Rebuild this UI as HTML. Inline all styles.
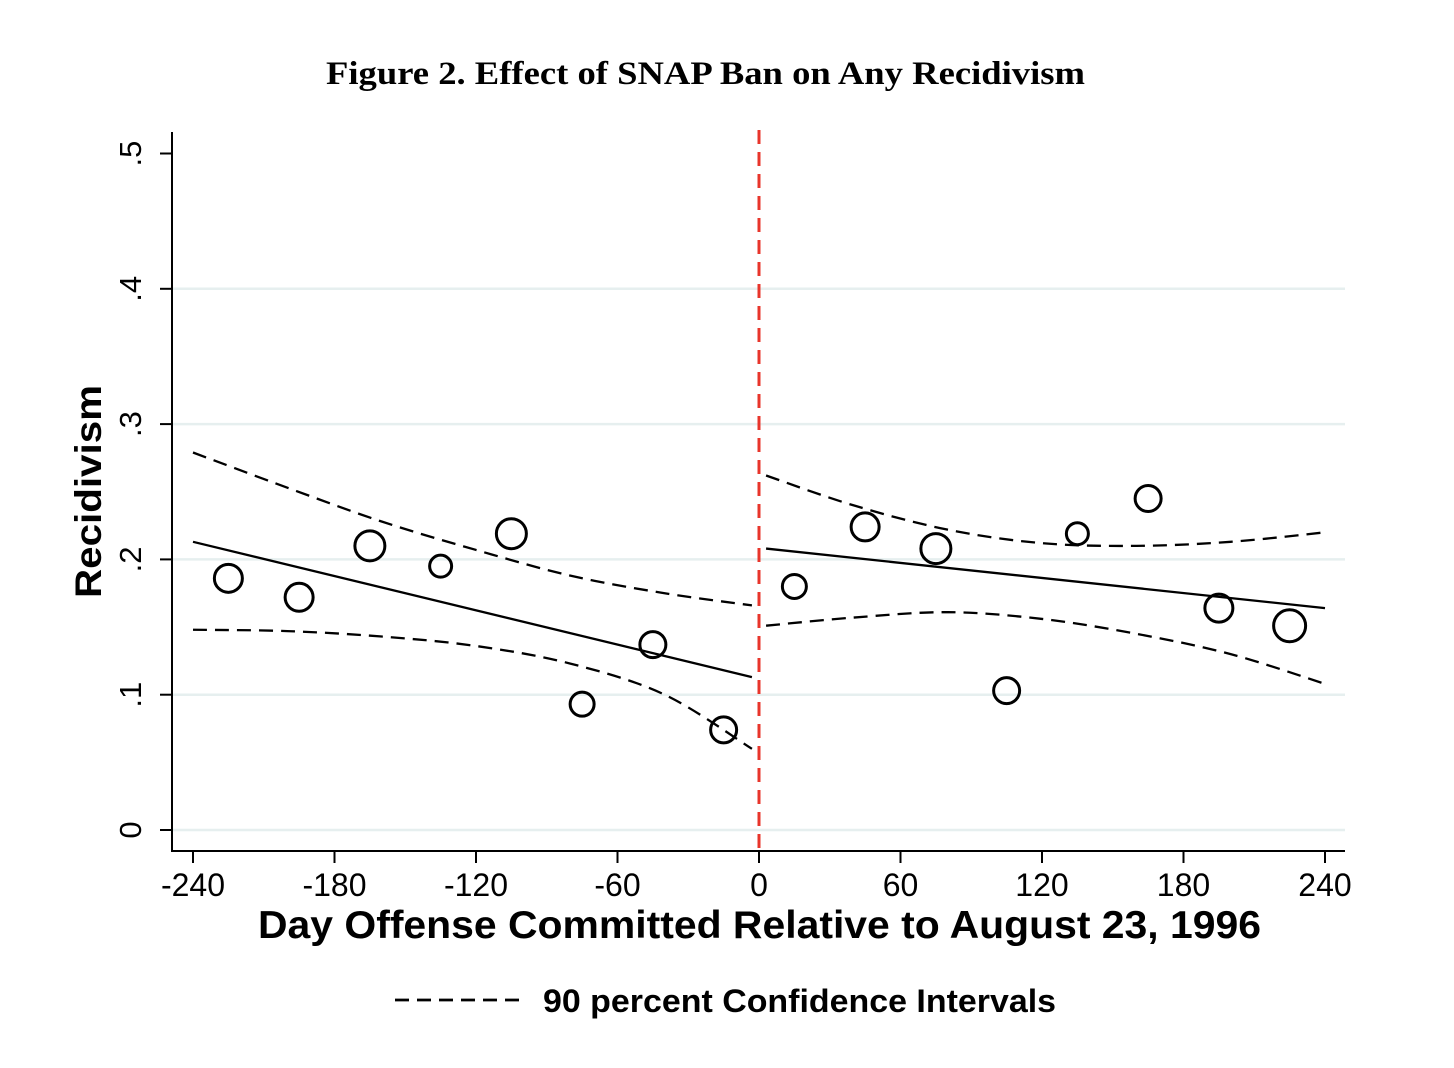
<!DOCTYPE html>
<html><head><meta charset="utf-8"><style>
body{margin:0;background:#fff;}
svg{display:block}
</style></head><body>
<svg width="1454" height="1068" viewBox="0 0 1454 1068" xmlns="http://www.w3.org/2000/svg">
<rect width="1454" height="1068" fill="#fff"/>
<text x="326" y="84" textLength="759" lengthAdjust="spacingAndGlyphs" font-family="Liberation Serif, serif" font-weight="bold" font-size="33">Figure 2. Effect of SNAP Ban on Any Recidivism</text>
<g id="grid"></g>
<g id="axes"></g>
<g id="marks"></g>
<text x="101" y="598" transform="rotate(-90 101 598)" textLength="213" lengthAdjust="spacingAndGlyphs" font-family="Liberation Sans, sans-serif" font-weight="bold" font-size="37">Recidivism</text>
<text x="258" y="938" textLength="1003" lengthAdjust="spacingAndGlyphs" font-family="Liberation Sans, sans-serif" font-weight="bold" font-size="39">Day Offense Committed Relative to August 23, 1996</text>
<g>
<line x1="395" y1="1000" x2="522" y2="1000" stroke="#000" stroke-width="2.8" stroke-dasharray="14 8"/>
<text x="543" y="1012" textLength="513" lengthAdjust="spacingAndGlyphs" font-family="Liberation Sans, sans-serif" font-weight="bold" font-size="32">90 percent Confidence Intervals</text>
</g>
</svg>
<script>
const xTicks=[-240,-180,-120,-60,0,60,120,180,240];
const yTicks=[0,0.1,0.2,0.3,0.4,0.5];
const yTickLabels=["0",".1",".2",".3",".4",".5"];
const binDays=[-225,-195,-165,-135,-105,-75,-45,-15,15,45,75,105,135,165,195,225];
const binRates=[0.186,0.172,0.210,0.195,0.219,0.093,0.137,0.074,0.180,0.224,0.208,0.103,0.219,0.245,0.164,0.151];
const binWeights=[14,14,15,11,15,12,13,13,12,14,15,13,11,13,14,16];
const fitLeftX=[-240,-3];
const fitLeftY=[0.213,0.113];
const fitRightX=[3,240];
const fitRightY=[0.208,0.164];
const ciLeftX=[-240,-200,-160,-120,-80,-40,-3];
const ciLeftUpper=[0.279,0.253,0.228,0.207,0.188,0.175,0.166];
const ciLeftLower=[0.148,0.147,0.143,0.136,0.123,0.100,0.060];
const ciRightX=[3,40,80,120,160,200,240];
const ciRightUpper=[0.262,0.240,0.222,0.212,0.210,0.213,0.220];
const ciRightLower=[0.151,0.157,0.161,0.156,0.145,0.130,0.108];

const NS="http://www.w3.org/2000/svg";
const sx=d=>759+d*(1132/480);
const sy=v=>830-v*1353;
function mk(tag,attrs,parent){const e=document.createElementNS(NS,tag);for(const k in attrs)e.setAttribute(k,attrs[k]);parent.appendChild(e);return e;}
const grid=document.getElementById('grid'),axes=document.getElementById('axes'),marks=document.getElementById('marks');

yTicks.forEach((t,i)=>{
  if(t<0.5){const g=mk('line',{x1:172,x2:1345,y1:sy(t),y2:sy(t),stroke:'#e6efef','stroke-width':2.5},grid);
  
  }
  const tk=mk('line',{x1:160,x2:172,y1:sy(t),y2:sy(t),stroke:'#000','stroke-width':2},axes);
  
  
  const y=sy(t);
  const tx=mk('text',{x:141,y:y,transform:`rotate(-90 141 ${y})`,'text-anchor':'middle','font-family':'Liberation Sans, sans-serif','font-size':31},axes);
  tx.textContent=yTickLabels[i];
  
  
});
xTicks.forEach(t=>{
  const tk=mk('line',{x1:sx(t),x2:sx(t),y1:851,y2:863,stroke:'#000','stroke-width':2},axes);
  
  
  const tx=mk('text',{x:sx(t),y:896,'text-anchor':'middle','font-family':'Liberation Sans, sans-serif','font-size':32},axes);
  tx.textContent=String(t);
  
  
});
const ya=mk('line',{x1:172,x2:172,y1:132,y2:852,stroke:'#000','stroke-width':2},axes);


const xa=mk('line',{x1:171,x2:1345,y1:851,y2:851,stroke:'#000','stroke-width':2},axes);



const cut=mk('line',{x1:sx(0),x2:sx(0),y1:130,y2:851,stroke:'#e8352b','stroke-width':3,'stroke-dasharray':'14 8'},marks);



function line(xs,ys,dashed,name){
  let d;
  const P=xs.map((x,i)=>[sx(x),sy(ys[i])]);
  if(P.length<3){d='M'+P.map(p=>p.join(',')).join(' L');}
  else{
    d='M'+P[0][0]+','+P[0][1];
    for(let i=0;i<P.length-1;i++){
      const p0=P[Math.max(0,i-1)],p1=P[i],p2=P[i+1],p3=P[Math.min(P.length-1,i+2)];
      const c1=[p1[0]+(p2[0]-p0[0])/6,p1[1]+(p2[1]-p0[1])/6];
      const c2=[p2[0]-(p3[0]-p1[0])/6,p2[1]-(p3[1]-p1[1])/6];
      d+=` C${c1[0]},${c1[1]} ${c2[0]},${c2[1]} ${p2[0]},${p2[1]}`;
    }
  }
  const a={d:d,fill:'none',stroke:'#000','stroke-width':2.3};
  if(dashed)a['stroke-dasharray']='14 8';
  const e=mk('path',a,marks);
  
  
}
line(ciLeftX,ciLeftUpper,true,'ci-left-upper');
line(ciLeftX,ciLeftLower,true,'ci-left-lower');
line(ciRightX,ciRightUpper,true,'ci-right-upper');
line(ciRightX,ciRightLower,true,'ci-right-lower');
line(fitLeftX,fitLeftY,false,'fit-line-left');
line(fitRightX,fitRightY,false,'fit-line-right');

binDays.forEach((d,i)=>{
  const c=mk('circle',{cx:sx(d),cy:sy(binRates[i]),r:binWeights[i],fill:'none',stroke:'#000','stroke-width':3},marks);
  
  
});
</script>
</body></html>
